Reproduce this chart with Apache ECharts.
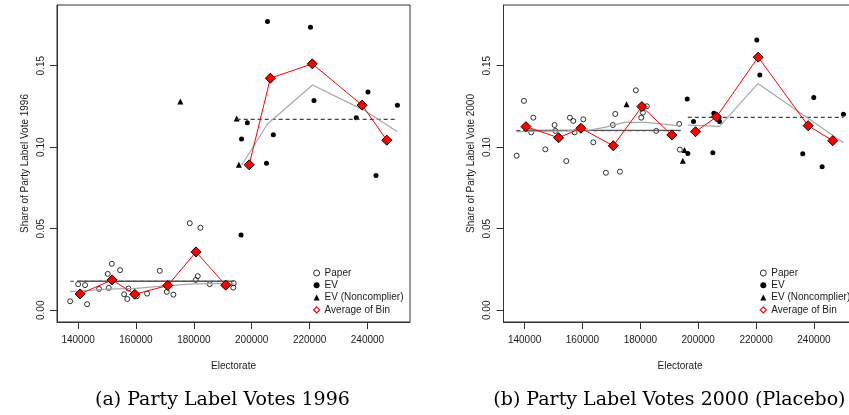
<!DOCTYPE html>
<html>
<head>
<meta charset="utf-8">
<script src="https://cdn.jsdelivr.net/npm/echarts@6/dist/echarts.min.js"></script>
<style>
html,body{margin:0;padding:0;background:#fff;}
#chart{width:849px;height:415px;}
</style>
</head>
<body>
<div id="chart"></div>
<script>
// ---------- tick labels ----------
const xTicks = [140000, 160000, 180000, 200000, 220000, 240000];
const yTicks = [0, 0.05, 0.10, 0.15];

// ---------- Panel (a): Party Label Votes 1996 ----------
const paper1996 = [
  [137237,0.0055],[140000,0.0160],[142400,0.0154],[143100,0.0037],[147250,0.0131],
  [150600,0.0137],[150250,0.0223],[151640,0.0285],[154500,0.0246],[155900,0.0098],
  [157380,0.0133],[157000,0.0069],[160270,0.0086],[163830,0.0102],[168220,0.0242],
  [170640,0.0113],[172920,0.0096],[178580,0.0534],[182260,0.0506],[180650,0.0186],
  [181340,0.0209],[185490,0.0160],[193780,0.0166],[193650,0.0139]
];
const ev1996 = [
  [196300,0.0461],[205450,0.1771],[220300,0.1735],[221520,0.1287],[240170,0.1339],
  [250350,0.1257],[236130,0.1180],[198480,0.1150],[196480,0.1050],[207460,0.1076],
  [205100,0.0901],[242940,0.0827]
];
const noncomplier1996 = [[175340,0.1280],[194810,0.1176],[195550,0.0892]];
const binLeft1996 = [[140690,0.0100],[151740,0.0186],[159580,0.0098],[170980,0.0152],[180760,0.0358],[191000,0.0154]];
const binRight1996 = [[199120,0.0892],[206440,0.1423],[220930,0.1511],[238150,0.1258],[246680,0.1043]];
const meanLeft1996 = [[137200,0.0178],[193800,0.0178]];
const fitLeft1996 = [[139700,0.0178],[193800,0.0178]];
const meanRight1996 = [[194800,0.1171],[250300,0.1171]];
const smoothLeft1996 = [[137200,0.0114],[150000,0.0130],[160000,0.0134],[170000,0.0150],[180000,0.0162],[193800,0.0165]];
const smoothRight1996 = [[196500,0.0889],[205450,0.1142],[221000,0.1381],[238560,0.1229],[250350,0.1094]];

// ---------- Panel (b): Party Label Votes 2000 (Placebo) ----------
const paper2000 = [
  [137237,0.0948],[139760,0.1284],[143000,0.1181],[142300,0.1091],[147150,0.0987],
  [150360,0.1136],[150600,0.1100],[154400,0.0915],[155650,0.1181],[156820,0.1161],
  [160270,0.1171],[157270,0.1091],[163730,0.1030],[168090,0.0843],[172920,0.0850],
  [170500,0.1136],[171330,0.1204],[178440,0.1349],[180300,0.1181],[182240,0.1251],
  [180860,0.1212],[185490,0.1100],[193430,0.1143],[193650,0.0985]
];
const ev2000 = [
  [196190,0.1296],[198370,0.1157],[196410,0.0962],[205050,0.0966],[205400,0.1208],
  [207120,0.1177],[207360,0.1157],[220240,0.1658],[221280,0.1442],[239930,0.1304],
  [236130,0.0960],[242820,0.0880],[250180,0.1202]
];
const noncomplier2000 = [[175230,0.1263],[195260,0.0983],[194680,0.0917]];
const binLeft2000 = [[140460,0.1126],[151740,0.1058],[159450,0.1116],[170640,0.1009],[180520,0.1249],[190880,0.1075]];
const binRight2000 = [[199060,0.1095],[206320,0.1186],[220720,0.1552],[237990,0.1132],[246490,0.1040]];
const meanLeft2000 = [[137130,0.1102],[193900,0.1102]];
const fitLeft2000 = [[140000,0.1103],[193900,0.1103]];
const meanRight2000 = [[196400,0.1183],[250200,0.1183]];
const smoothLeft2000 = [[137200,0.1095],[155000,0.1100],[163000,0.1106],[167600,0.1122],[174500,0.1152],[182000,0.1152],[188000,0.1142],[193800,0.1131]];
const smoothRight2000 = [[196400,0.1135],[207400,0.1128],[220600,0.1390],[250200,0.1027]];

// ---------- options ----------
const sans = 'Liberation Sans, Arial, Helvetica, sans-serif';
const txt = '#1a1a1a';

function makeX(idx) {
  return {
    type: 'value', gridIndex: idx, min: 132700, max: 254700,
    name: 'Electorate', nameLocation: 'middle', nameGap: 39,
    nameTextStyle: {fontFamily: sans, fontSize: 10, color: txt},
    axisLine: {show: true, onZero: false, lineStyle: {color: '#333', width: 1}},
    axisTick: {show: true, inside: false, length: 7, customValues: xTicks, lineStyle: {color: '#333'}},
    axisLabel: {show: true, margin: 13.5, customValues: xTicks, fontFamily: sans, fontSize: 10, color: txt,
      formatter: v => String(v)},
    splitLine: {show: false}
  };
}
function makeY(idx, name) {
  return {
    type: 'value', gridIndex: idx, min: -0.0072, max: 0.1872,
    name: name, nameLocation: 'middle', nameGap: 27, nameRotate: 90,
    nameTextStyle: {fontFamily: sans, fontSize: 10, color: txt},
    axisLine: {show: true, onZero: false, lineStyle: {color: '#333', width: 1}},
    axisTick: {show: true, inside: false, length: 7, customValues: yTicks, lineStyle: {color: '#333'}},
    axisLabel: {show: true, rotate: 90, margin: 11, customValues: yTicks, fontFamily: sans, fontSize: 10, color: txt,
      formatter: v => v.toFixed(2)},
    splitLine: {show: false}
  };
}
function lineS(name, data, idx, color, width, type) {
  return {
    type: 'line', name: name, data: data, xAxisIndex: idx, yAxisIndex: idx,
    symbol: 'none', showSymbol: false, silent: true, z: 3,
    lineStyle: {color: color, width: width, type: type || 'solid'}
  };
}
function panelSeries(idx, paper, ev, nc, binL, binR, meanL, fitL, meanR, smL, smR) {
  return [
    {type: 'scatter', name: 'Paper', data: paper, xAxisIndex: idx, yAxisIndex: idx, symbol: 'circle', symbolSize: 5,
      itemStyle: {color: 'rgba(0,0,0,0)', borderColor: '#000', borderWidth: 0.8, opacity: 1}, z: 2},
    {type: 'scatter', name: 'EV', data: ev, xAxisIndex: idx, yAxisIndex: idx, symbol: 'circle', symbolSize: 5,
      itemStyle: {color: '#000', opacity: 1}, z: 2},
    {type: 'scatter', name: 'EV (Noncomplier)', data: nc, xAxisIndex: idx, yAxisIndex: idx, symbol: 'triangle', symbolSize: 6,
      itemStyle: {color: '#000', opacity: 1}, z: 2},
    lineS('mean-left-' + idx, meanL, idx, '#444', 1.2, [4, 3]),
    lineS('fit-left-' + idx, fitL, idx, '#555', 1.3),
    lineS('mean-right-' + idx, meanR, idx, '#444', 1.2, [4, 3]),
    lineS('smooth-left-' + idx, smL, idx, '#a8a8a8', 1.2),
    lineS('smooth-right-' + idx, smR, idx, '#a8a8a8', 1.2),
    lineS('bin-left-' + idx, binL, idx, '#ff0000', 1),
    lineS('bin-right-' + idx, binR, idx, '#ff0000', 1),
    {type: 'scatter', name: 'Average of Bin', data: binL.concat(binR), xAxisIndex: idx, yAxisIndex: idx,
      symbol: 'diamond', symbolSize: 10, itemStyle: {color: '#ff0000', borderColor: '#000', borderWidth: 1, opacity: 1}, z: 4}
  ];
}
function makeLegend(left) {
  return {
    left: left, top: 268, orient: 'vertical', padding: 0, itemGap: 2.3,
    itemWidth: 6, itemHeight: 6, selectedMode: false,
    textStyle: {fontFamily: sans, fontSize: 10, color: txt},
    data: [
      {name: 'Paper', icon: 'circle', itemStyle: {color: '#fff', borderColor: '#000', borderWidth: 0.8}},
      {name: 'EV', icon: 'circle', itemStyle: {color: '#000', borderWidth: 0}},
      {name: 'EV (Noncomplier)', icon: 'triangle', itemStyle: {color: '#000', borderWidth: 0}},
      {name: 'Average of Bin', icon: 'diamond', itemStyle: {color: '#fff', borderColor: '#ff0000', borderWidth: 1.2}}
    ]
  };
}

const option = {
  animation: false,
  backgroundColor: '#fff',
  grid: [
    {left: 57, top: 5, width: 353, height: 317, show: true, borderColor: '#333', borderWidth: 1, backgroundColor: 'transparent', outerBoundsMode: 'none', containLabel: false},
    {left: 503.5, top: 5, width: 353, height: 317, show: true, borderColor: '#333', borderWidth: 1, backgroundColor: 'transparent', outerBoundsMode: 'none', containLabel: false}
  ],
  xAxis: [makeX(0), makeX(1)],
  yAxis: [makeY(0, 'Share of Party Label Vote 1996'), makeY(1, 'Share of Party Label Vote 2000')],
  legend: [makeLegend(313), makeLegend(759.7)],
  series: [].concat(
    panelSeries(0, paper1996, ev1996, noncomplier1996, binLeft1996, binRight1996, meanLeft1996, fitLeft1996, meanRight1996, smoothLeft1996, smoothRight1996),
    panelSeries(1, paper2000, ev2000, noncomplier2000, binLeft2000, binRight2000, meanLeft2000, fitLeft2000, meanRight2000, smoothLeft2000, smoothRight2000)
  ),
  graphic: [
    {type: 'text', left: 95, top: 391, style: {text: '(a) Party Label Votes 1996', font: '19px "DejaVu Serif", serif', fill: '#000'}},
    {type: 'text', left: 493.3, top: 391, style: {text: '(b) Party Label Votes 2000 (Placebo)', font: '19px "DejaVu Serif", serif', fill: '#000'}}
  ]
};

const chart = echarts.init(document.getElementById('chart'), null, {renderer: 'canvas'});
chart.setOption(option);
</script>
</body>
</html>
